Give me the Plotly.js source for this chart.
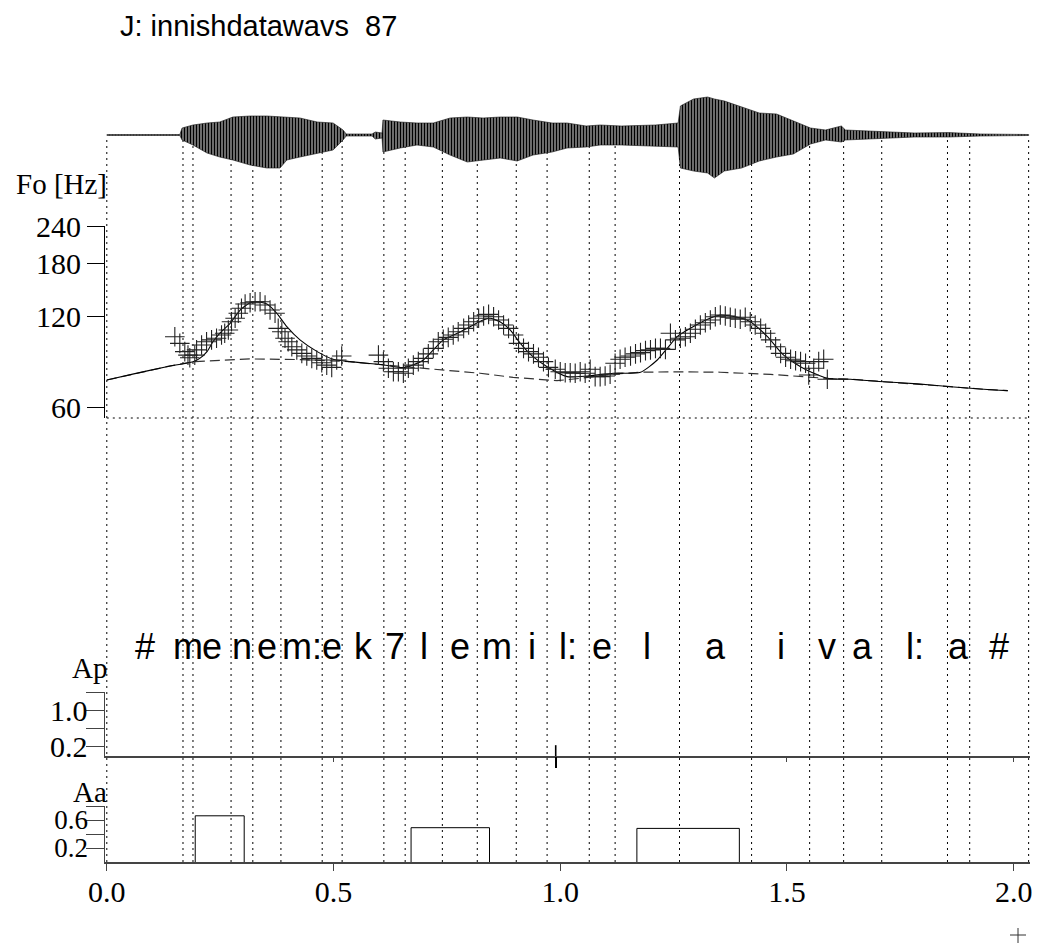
<!DOCTYPE html>
<html><head><meta charset="utf-8">
<script src="https://cdn.plot.ly/plotly-3.0.1.min.js"></script>
<style>html,body{margin:0;padding:0;background:#fff}#chart{width:1038px;height:946px}</style>
</head><body><div id="chart"></div>
<script>
// ---------------- data ----------------
const titleText = "J: innishdatawavs\u00a0\u00a087";
// segment boundaries (s) and phoneme labels
const boundaries = [0, 0.168, 0.190, 0.274, 0.322, 0.384, 0.475, 0.519, 0.611, 0.658, 0.740, 0.817, 0.903, 0.971, 1.064, 1.121, 1.263, 1.422, 1.550, 1.625, 1.709, 1.854, 1.903, 2.033];
const phonemes = ['#','m','e','n','e','m:','e','k','7','l','e','m','i','l:','e','l','a','i','v','a','l:','a','#'];
// measured F0 (crosses)
const crossT = [0.150,0.161,0.172,0.179,0.183,0.194,0.198,0.209,0.220,0.231,0.242,0.253,0.260,0.268,0.275,0.283,0.290,0.297,0.305,0.316,0.327,0.338,0.349,0.360,0.371,0.378,0.386,0.393,0.400,0.408,0.419,0.430,0.441,0.452,0.463,0.474,0.485,0.496,0.507,0.518,
0.599,0.610,0.621,0.632,0.643,0.654,0.665,0.676,0.687,0.698,0.709,0.720,0.731,0.742,0.753,0.764,0.775,0.787,0.798,0.809,0.820,0.831,0.842,0.853,0.864,0.875,0.886,0.897,0.908,0.919,0.930,0.941,0.952,0.963,0.974,0.989,1.000,1.011,1.022,1.033,1.044,1.055,1.066,1.077,1.088,1.099,1.110,
1.121,1.132,1.143,1.155,1.166,1.177,1.188,1.199,1.210,1.221,1.232,1.243,1.254,1.265,1.276,1.287,1.298,1.309,1.320,1.331,1.342,1.353,1.364,1.375,1.386,1.397,1.408,1.419,1.430,1.442,1.453,1.464,1.475,1.486,1.497,1.508,1.519,1.530,1.541,1.548,1.559,1.570,1.581,1.589];
const crossHz = [102.8,97.7,91.7,89.3,87.5,89.3,92.9,96.5,98.9,100.3,101.6,104.2,105.5,108.2,115.3,118.4,123.0,127.8,132.1,133.4,134.4,134.4,131.0,126.1,123.0,109.6,106.8,101.6,98.9,95.2,92.9,90.5,88.7,87.1,86.0,84.2,82.7,81.3,86.0,88.7,
89.3,84.9,80.7,78.6,78.6,77.7,80.7,82.7,84.9,87.1,90.1,94.0,98.9,100.8,102.3,104.2,106.8,109.6,112.4,115.3,118.4,120.5,122.0,119.8,116.8,112.4,109.6,104.2,97.7,94.0,91.7,90.1,87.8,84.9,81.3,80.1,78.6,78.0,78.0,77.7,78.6,77.7,80.1,75.7,75.7,76.1,77.1,
83.9,86.5,87.8,88.7,90.1,91.0,92.4,92.9,94.0,94.0,93.3,105.5,100.3,101.6,102.8,105.5,108.8,112.4,114.4,116.8,119.8,121.4,120.5,119.3,118.4,117.5,119.3,115.3,112.4,109.6,105.5,100.3,95.2,90.5,87.8,86.5,85.5,84.9,83.9,76.7,80.7,84.9,86.5,74.2];
// model contour (solid)
const fitT = [0.000,0.057,0.132,0.190,0.205,0.221,0.234,0.249,0.272,0.294,0.316,0.331,0.353,0.375,0.397,0.426,0.464,0.499,0.536,0.609,0.653,0.675,0.698,0.720,0.742,0.773,0.801,0.830,0.845,0.867,0.890,0.912,0.940,0.971,1.015,1.060,1.117,1.177,1.214,1.236,1.258,1.287,1.325,1.353,1.391,1.419,1.457,1.492,1.536,1.589,1.640,1.713,1.788,1.861,1.934,1.987];
const fitHz = [73.8,77.2,81.7,84.9,87.1,91.7,98.9,105.5,113.9,126.1,133.4,134.4,132.1,123.0,111.0,100.3,91.7,86.5,84.9,82.9,81.1,82.8,86.0,92.9,100.3,105.5,111.0,116.8,118.4,115.3,108.2,97.7,88.2,81.7,75.7,76.1,77.7,78.3,86.0,94.1,102.8,109.6,117.5,121.4,119.3,115.3,102.8,89.4,80.7,74.7,74.2,72.8,71.6,70.1,68.7,68.0];
// phrase component (dashed)
const phraseT = [0.000,0.057,0.132,0.190,0.316,0.426,0.492,0.536,0.609,0.658,0.751,0.823,0.896,0.956,0.993,1.044,1.117,1.177,1.258,1.353,1.464,1.589,1.640,1.713,1.788,1.861,1.934,1.987];
const phraseHz = [73.8,77.2,81.7,84.9,86.7,86.3,85.5,84.9,82.9,81.7,79.2,77.7,75.3,74.1,73.4,74.7,77.2,78.3,78.6,78.3,77.0,74.7,74.2,72.8,71.6,70.1,68.7,68.0];
// commands
const apT = [0.99];
const apAmp = [0.24];
const aaOn = [0.195, 0.671, 1.169];
const aaOff = [0.303, 0.844, 1.395];
const aaAmp = [0.66, 0.49, 0.48];
// speech waveform envelope (arbitrary units)
const waveT = [0.000,0.161,0.166,0.190,0.221,0.249,0.278,0.316,0.353,0.382,0.397,0.426,0.464,0.499,0.521,0.528,0.585,0.592,0.607,0.609,0.647,0.684,0.720,0.757,0.795,0.830,0.868,0.905,0.940,0.982,1.015,1.057,1.088,1.135,1.210,1.260,1.265,1.294,1.325,1.340,1.362,1.400,1.439,1.477,1.514,1.552,1.585,1.620,1.629,1.704,1.781,1.857,1.927,2.033];
const waveUp = [0.5,0.5,7,10,12,13,18,19,19,18,18,17,13,12,5,1,1,3,2,15,13,12,12,17,18,17,18,18,15,12,12,9,10,9,10,12,29,36,38,36,34,28,22,21,14,7,5,9,5,3.4,2,2.4,1,0.5];
const waveLo = [-0.5,-0.5,-5,-10,-18,-22,-25,-30,-33,-33,-25,-22,-18,-15,-5,-1,-1,-4,-3,-17,-13,-10,-12,-20,-27,-25,-23,-26,-20,-17,-13,-12,-10,-10,-11,-12,-33,-36,-38,-43,-36,-33,-26,-22,-19,-9,-5,-7,-5,-3.4,-2,-2,-1,-0.5];
const xTickVals = [0, 0.5, 1.0, 1.5, 2.0];
const xTickText = ['0.0','0.5','1.0','1.5','2.0'];
const f0TickVals = [60, 120, 180, 240];
const apTickVals = [0.2, 0.6, 1.0, 1.4];
const apTickText = ['0.2', '', '1.0', ''];
const aaTickVals = [0.2, 0.4, 0.6, 0.8];
const aaTickText = ['0.2', '', '0.6', ''];

// ---------------- layout helpers ----------------
const H = 946, L = 105, R = 8, PW = 1038 - L - R;
const py = p => 1 - p / H;
const px = p => (p - L) / PW;
const serif = 'Liberation Serif, Times New Roman, serif';
const sans = 'Liberation Sans, Arial, Helvetica, sans-serif';
const ink = '#000';

const traces = [];
// waveform as hatched envelope
traces.push({
  x: waveT.concat(waveT.slice().reverse()),
  y: waveUp.concat(waveLo.slice().reverse()),
  xaxis: 'x', yaxis: 'y2', mode: 'lines', fill: 'toself',
  fillpattern: {shape: '|', size: 3, solidity: 0.72, fgcolor: '#000', bgcolor: '#fff', fillmode: 'replace'},
  line: {color: '#111', width: 0.6}, hoverinfo: 'skip'
});
// phrase component dashed
traces.push({x: phraseT, y: phraseHz, xaxis: 'x', yaxis: 'y', mode: 'lines',
  line: {color: '#333', width: 1.2, dash: '10px,5px'}});
// model contour solid
traces.push({x: fitT, y: fitHz, xaxis: 'x', yaxis: 'y', mode: 'lines',
  line: {color: '#000', width: 1.1, shape: 'spline', smoothing: 0.6}});
// measured F0 crosses
traces.push({x: crossT, y: crossHz, xaxis: 'x', yaxis: 'y', mode: 'markers',
  marker: {symbol: 'cross-thin-open', size: 14, color: '#222', line: {width: 1.1, color: '#222'}}});
// phrase command impulses (on overlay axis x3, whose ticks extend the impulse below the baseline)
apT.forEach((t, i) => traces.push({x: [t, t], y: [0, apAmp[i]], xaxis: 'x3', yaxis: 'y3', mode: 'lines',
  line: {color: '#000', width: 1.6}}));
// accent command boxes
aaOn.forEach((t, i) => traces.push({x: [t, t, aaOff[i], aaOff[i]], y: [0, aaAmp[i], aaAmp[i], 0],
  xaxis: 'x', yaxis: 'y4', mode: 'lines', line: {color: '#000', width: 1}}));
// empty trace so the Ap baseline axis x2 owns a subplot
traces.push({x: [], y: [], xaxis: 'x2', yaxis: 'y3', mode: 'lines', hoverinfo: 'skip'});

const shapes = [];
boundaries.forEach(b => shapes.push({type: 'line', xref: 'x', yref: 'paper', x0: b, x1: b,
  y0: py(862), y1: py(137), layer: 'below', line: {color: '#000', width: 1, dash: '2px,4px'}}));
shapes.push({type: 'line', xref: 'x', yref: 'paper', x0: boundaries[0], x1: boundaries[boundaries.length - 1],
  y0: py(418), y1: py(418), layer: 'below', line: {color: '#000', width: 1, dash: '2px,4px'}});
// small plus mark at lower right
shapes.push({type: 'line', xref: 'paper', yref: 'paper', x0: px(1010), x1: px(1026), y0: py(935), y1: py(935), line: {color: '#333', width: 1}});
shapes.push({type: 'line', xref: 'paper', yref: 'paper', x0: px(1018), x1: px(1018), y0: py(928), y1: py(943), line: {color: '#333', width: 1}});

const annotations = [];
annotations.push({text: titleText, xref: 'paper', yref: 'paper', x: px(118), y: py(26), xanchor: 'left', yanchor: 'middle',
  showarrow: false, font: {family: sans, size: 29, color: ink}});
for (let i = 0; i < phonemes.length; i++) {
  annotations.push({text: phonemes[i], xref: 'x', yref: 'paper', x: (boundaries[i] + boundaries[i + 1]) / 2, y: py(646),
    xanchor: 'center', yanchor: 'middle', showarrow: false, font: {family: sans, size: 36, color: ink}});
}
[['Fo [Hz]', 184], ['Ap', 668], ['Aa', 792]].forEach(([t, y]) => annotations.push({text: t, xref: 'paper', yref: 'paper',
  x: px(108), y: py(y), xanchor: 'right', yanchor: 'middle', showarrow: false, borderpad: 0,
  font: {family: serif, size: 29, color: ink}}));

const xr = [-0.004, 2.036];
const layout = {
  width: 1038, height: 946, margin: {l: L, r: R, t: 0, b: 0},
  paper_bgcolor: '#fff', plot_bgcolor: 'rgba(0,0,0,0)', showlegend: false,
  xaxis: {domain: [0, 1], range: xr, anchor: 'y4', showline: true, linecolor: '#444', linewidth: 1.5,
    ticks: 'outside', ticklen: 7, tickcolor: '#444', tickvals: xTickVals, ticktext: xTickText,
    tickfont: {family: serif, size: 30, color: ink}, ticklabelstandoff: -5, showgrid: false, zeroline: false},
  xaxis2: {domain: [0, 1], range: xr, anchor: 'y3', matches: 'x', showline: true, linecolor: '#444', linewidth: 1.5,
    ticks: 'outside', ticklen: 4, tickcolor: '#444', tickvals: [0.5, 1.5, 2.0], showticklabels: false,
    showgrid: false, zeroline: false},
  xaxis3: {domain: [0, 1], range: xr, anchor: 'y3', matches: 'x', overlaying: 'x2', showline: false,
    ticks: 'outside', ticklen: 11, tickwidth: 1.6, tickcolor: '#000', tickvals: apT, showticklabels: false,
    showgrid: false, zeroline: false},
  yaxis: {type: 'log', domain: [py(418), py(226)], range: [Math.log10(55.15), Math.log10(240)], anchor: 'x',
    showline: true, linecolor: '#000', linewidth: 1, ticks: 'outside', ticklen: 17, tickcolor: '#000',
    tickvals: f0TickVals, ticktext: f0TickVals.map(String), tickfont: {family: serif, size: 30, color: ink},
    ticklabelstandoff: 0, showgrid: false, zeroline: false},
  yaxis2: {domain: [py(182), py(90)], range: [-47, 45], anchor: 'x', visible: false, showgrid: false, zeroline: false},
  yaxis3: {domain: [py(756), py(692)], range: [0, 1.42], anchor: 'x2', showline: true, linecolor: '#444', linewidth: 1.5,
    ticks: 'outside', ticklen: 18, tickcolor: '#444', tickvals: apTickVals, ticktext: apTickText,
    tickfont: {family: serif, size: 30, color: ink}, ticklabelstandoff: -8, showgrid: false, zeroline: false},
  yaxis4: {domain: [py(862), py(806)], range: [0, 0.8], anchor: 'x', showline: true, linecolor: '#444', linewidth: 1.5,
    ticks: 'outside', ticklen: 18, tickcolor: '#444', tickvals: aaTickVals, ticktext: aaTickText,
    tickfont: {family: serif, size: 27, color: ink}, ticklabelstandoff: -8, showgrid: false, zeroline: false},
  shapes: shapes, annotations: annotations
};
Plotly.newPlot('chart', traces, layout, {staticPlot: true, displayModeBar: false});
</script></body></html>
